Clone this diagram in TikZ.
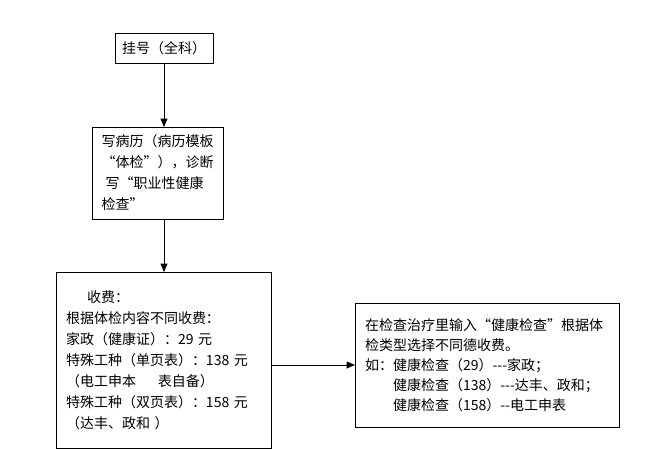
\documentclass[tikz,border=0pt]{standalone}
\usepackage{fontspec}
\setmainfont{Noto Sans CJK SC}
\usetikzlibrary{shapes,arrows}
\usetikzlibrary{calc}

\begin{document}
\begin{tikzpicture}[x=1pt,y=-1pt]

\tikzstyle{box} = [draw, line width=0.9, inner sep=0, outer sep=0, font=\fontsize{14pt}{21pt}\selectfont]
\tikzstyle{textbox} = [box, align=left, inner xsep=9.5]
\tikzstyle{flow} = [line width=0.9, -triangle 45]

\useasboundingbox (0,0) rectangle (659,450);

\node [box, minimum width=98, minimum height=30] (reg) at (164,48) {挂号（全科）};

\node [textbox, text width=112, minimum width=131, minimum height=92] (record) at (157.5,173) {写病历（病历模板\\
\hspace*{\fill}“体检”），诊断\\
\hspace*{4pt}写“职业性健康\\
检查”};

\node [textbox, text width=195, minimum width=215, minimum height=176] (fee) at (163.5,360) {\hspace*{21pt}收费：\\
根据体检内容不同收费：\\
家政（健康证）：29 元\\
特殊工种（单页表）：138 元\\
（电工申本\hspace{22pt}表自备）\\
特殊工种（双页表）：158 元\\
（达丰、政和 ）\\[10pt]};

\node [textbox, text width=244, minimum width=264, minimum height=124, font=\fontsize{14pt}{20pt}\selectfont] (input) at (487,365) {在检查治疗里输入“健康检查”根据体\\
检类型选择不同德收费。\\
如：健康检查（29）{-}{-}{-}家政；\\
\hspace*{28pt}健康检查（138）{-}{-}{-}达丰、政和；\\
\hspace*{28pt}健康检查（158）{-}{-}电工申表};

\draw[flow] (reg.south) -- (reg.south |- record.north);
\draw[flow] (reg.south |- record.south) -- (reg.south |- fee.north);
\draw[flow] (fee.east |- input.west) -- (input.west);

\end{tikzpicture}
\end{document}
